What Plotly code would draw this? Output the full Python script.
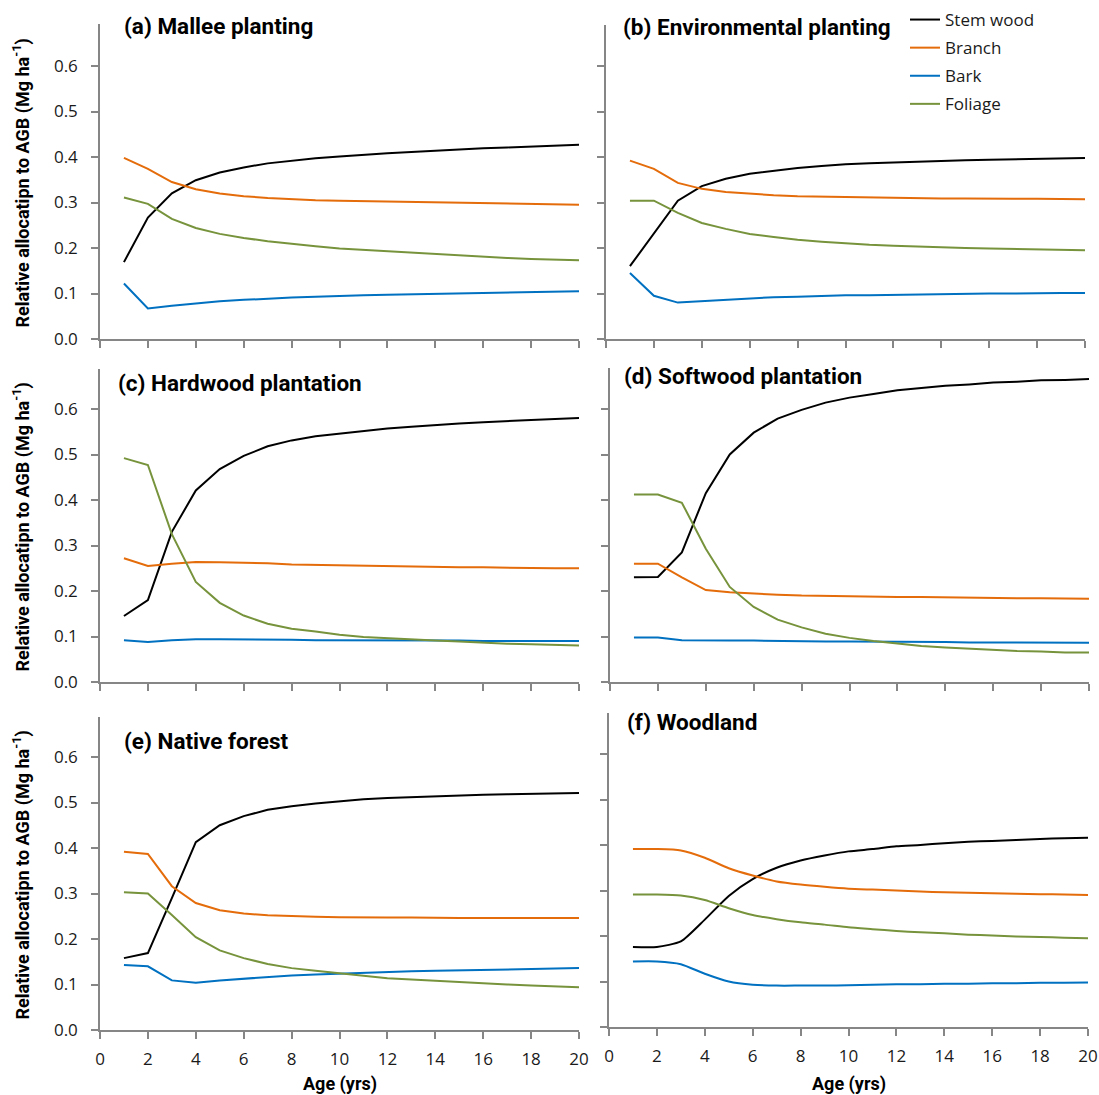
import plotly.graph_objects as go

# Age in years (x axis for every panel)
age = list(range(1, 21))

series_names = ["Stem wood", "Branch", "Bark", "Foliage"]
series_colors = ["#000000", "#E46C0A", "#0070C0", "#77933C"]

# (a) Mallee planting
mallee_stem = [0.169, 0.267, 0.320, 0.349, 0.366, 0.377, 0.386, 0.392, 0.397, 0.401,
               0.405, 0.408, 0.411, 0.414, 0.416, 0.419, 0.421, 0.423, 0.425, 0.427]
mallee_branch = [0.398, 0.374, 0.345, 0.329, 0.320, 0.314, 0.310, 0.307, 0.305, 0.304,
                 0.303, 0.302, 0.301, 0.300, 0.299, 0.298, 0.298, 0.297, 0.296, 0.295]
mallee_bark = [0.122, 0.067, 0.073, 0.078, 0.083, 0.086, 0.089, 0.091, 0.093, 0.095,
               0.096, 0.097, 0.098, 0.099, 0.100, 0.101, 0.102, 0.103, 0.104, 0.105]
mallee_foliage = [0.311, 0.297, 0.264, 0.244, 0.231, 0.222, 0.215, 0.209, 0.204, 0.199,
                  0.196, 0.192, 0.189, 0.186, 0.183, 0.180, 0.178, 0.176, 0.175, 0.173]

# (b) Environmental planting
env_stem = [0.160, 0.231, 0.304, 0.336, 0.352, 0.363, 0.370, 0.376, 0.380, 0.384,
            0.386, 0.388, 0.390, 0.392, 0.393, 0.394, 0.395, 0.396, 0.397, 0.398]
env_branch = [0.392, 0.374, 0.343, 0.330, 0.323, 0.319, 0.316, 0.314, 0.313, 0.312,
              0.311, 0.310, 0.310, 0.309, 0.309, 0.308, 0.308, 0.308, 0.307, 0.307]
env_bark = [0.145, 0.095, 0.080, 0.083, 0.087, 0.089, 0.092, 0.093, 0.095, 0.096,
            0.096, 0.097, 0.098, 0.098, 0.099, 0.100, 0.100, 0.101, 0.101, 0.101]
env_foliage = [0.304, 0.304, 0.277, 0.255, 0.242, 0.231, 0.224, 0.218, 0.214, 0.210,
               0.207, 0.205, 0.203, 0.201, 0.200, 0.199, 0.198, 0.197, 0.196, 0.195]

# (c) Hardwood plantation
hard_stem = [0.145, 0.180, 0.330, 0.421, 0.468, 0.497, 0.518, 0.531, 0.540, 0.546,
             0.552, 0.557, 0.561, 0.565, 0.568, 0.571, 0.574, 0.576, 0.578, 0.580]
hard_branch = [0.272, 0.255, 0.260, 0.264, 0.263, 0.262, 0.261, 0.258, 0.257, 0.256,
               0.255, 0.254, 0.253, 0.253, 0.252, 0.252, 0.251, 0.250, 0.250, 0.250]
hard_bark = [0.092, 0.088, 0.092, 0.094, 0.094, 0.094, 0.093, 0.093, 0.092, 0.092,
             0.091, 0.091, 0.091, 0.091, 0.091, 0.090, 0.090, 0.090, 0.090, 0.090]
hard_foliage = [0.492, 0.477, 0.325, 0.220, 0.174, 0.146, 0.128, 0.117, 0.111, 0.104,
                0.099, 0.096, 0.093, 0.091, 0.089, 0.086, 0.084, 0.083, 0.081, 0.080]

# (d) Softwood plantation
soft_stem = [0.230, 0.231, 0.285, 0.415, 0.500, 0.548, 0.579, 0.598, 0.614, 0.625,
             0.633, 0.641, 0.646, 0.651, 0.654, 0.658, 0.660, 0.663, 0.664, 0.666]
soft_branch = [0.260, 0.260, 0.230, 0.202, 0.197, 0.194, 0.192, 0.190, 0.189, 0.189,
               0.188, 0.187, 0.187, 0.186, 0.185, 0.185, 0.184, 0.184, 0.183, 0.183]
soft_bark = [0.098, 0.098, 0.092, 0.091, 0.091, 0.091, 0.090, 0.090, 0.089, 0.089,
             0.089, 0.088, 0.088, 0.088, 0.087, 0.087, 0.087, 0.086, 0.086, 0.086]
soft_foliage = [0.412, 0.412, 0.394, 0.293, 0.209, 0.165, 0.137, 0.120, 0.106, 0.097,
                0.090, 0.084, 0.079, 0.076, 0.073, 0.070, 0.068, 0.067, 0.065, 0.065]

# (e) Native forest
native_stem = [0.158, 0.169, 0.290, 0.413, 0.450, 0.470, 0.484, 0.492, 0.498, 0.503,
               0.507, 0.510, 0.512, 0.514, 0.516, 0.517, 0.518, 0.519, 0.520, 0.521]
native_branch = [0.392, 0.387, 0.316, 0.279, 0.263, 0.256, 0.252, 0.250, 0.249, 0.248,
                 0.247, 0.247, 0.247, 0.246, 0.246, 0.246, 0.246, 0.246, 0.246, 0.246]
native_bark = [0.143, 0.140, 0.109, 0.104, 0.109, 0.113, 0.117, 0.120, 0.122, 0.124,
               0.126, 0.128, 0.129, 0.130, 0.131, 0.132, 0.133, 0.134, 0.135, 0.136]
native_foliage = [0.303, 0.300, 0.253, 0.204, 0.175, 0.158, 0.145, 0.136, 0.130, 0.124,
                  0.119, 0.114, 0.111, 0.108, 0.105, 0.102, 0.100, 0.098, 0.096, 0.094]

# (f) Woodland
wood_stem = [0.176, 0.176, 0.188, 0.236, 0.288, 0.325, 0.350, 0.366, 0.377, 0.386,
             0.391, 0.397, 0.400, 0.404, 0.407, 0.409, 0.411, 0.413, 0.415, 0.416]
wood_branch = [0.391, 0.391, 0.388, 0.372, 0.349, 0.333, 0.320, 0.313, 0.308, 0.304,
               0.302, 0.300, 0.298, 0.296, 0.295, 0.294, 0.293, 0.292, 0.291, 0.290]
wood_bark = [0.144, 0.144, 0.138, 0.117, 0.100, 0.093, 0.091, 0.091, 0.091, 0.092,
             0.093, 0.094, 0.094, 0.095, 0.095, 0.096, 0.096, 0.097, 0.097, 0.098]
wood_foliage = [0.291, 0.291, 0.289, 0.279, 0.261, 0.246, 0.237, 0.230, 0.225, 0.219,
                0.215, 0.211, 0.208, 0.206, 0.203, 0.201, 0.199, 0.198, 0.196, 0.195]

panel_titles = ["(a) Mallee planting", "(b) Environmental planting",
                "(c) Hardwood plantation", "(d) Softwood plantation",
                "(e) Native forest", "(f) Woodland"]

panel_data = [
    [mallee_stem, mallee_branch, mallee_bark, mallee_foliage],
    [env_stem, env_branch, env_bark, env_foliage],
    [hard_stem, hard_branch, hard_bark, hard_foliage],
    [soft_stem, soft_branch, soft_bark, soft_foliage],
    [native_stem, native_branch, native_bark, native_foliage],
    [wood_stem, wood_branch, wood_bark, wood_foliage],
]

x_ticks = list(range(0, 21, 2))
y_ticks = [0.0, 0.1, 0.2, 0.3, 0.4, 0.5, 0.6]
y_tick_text = ["0.0", "0.1", "0.2", "0.3", "0.4", "0.5", "0.6"]
y_title = "Relative allocatipn to AGB (Mg ha<sup>-1</sup>)"
x_title = "Age (yrs)"

W, H = 1099, 1095

# plot-area boxes in pixels: (left, right, top, bottom)
boxes = [
    (100, 579, 24, 339),
    (606, 1085, 25, 339),
    (100, 579, 369, 682),
    (610, 1089, 368, 682),
    (100, 579, 717, 1030),
    (609, 1088, 713, 1027),
]
px_per_unit = 455.0

# title anchor points (left x, centre y) in pixels
title_pos = [(122, 26), (621, 27), (116, 383), (622, 376), (122, 741), (625, 722)]

AXIS_GREY = "#868686"
TEXT_COL = "#1a1a1a"
TICK_FONT = dict(family="Open Sans", size=17, color=TEXT_COL)
BOLD_FONT = "Roboto"

fig = go.Figure()
annotations = []

for p, (series_set, box) in enumerate(zip(panel_data, boxes)):
    idx = "" if p == 0 else str(p + 1)
    xa, ya = "x" + idx, "y" + idx
    for s, (name, color, values) in enumerate(zip(series_names, series_colors, series_set)):
        fig.add_trace(go.Scatter(
            x=age, y=values, mode="lines", name=name,
            line=dict(color=color, width=2,
                      shape="spline" if p == 5 else "linear", smoothing=0.6),
            xaxis=xa, yaxis=ya,
            legendgroup=name, showlegend=(p == 0),
        ))

    left, right, top, bottom = box
    ymax = (bottom - top) / px_per_unit
    is_left = p % 2 == 0
    is_bottom = p >= 4
    xkey = "xaxis" + idx
    ykey = "yaxis" + idx
    fig.update_layout({
        xkey: dict(
            domain=[left / W, right / W], range=[0, 20], anchor=ya,
            tickmode="array", tickvals=x_ticks,
            showticklabels=is_bottom, tickfont=TICK_FONT,
            ticks="outside", ticklen=7, tickwidth=1.5, tickcolor=AXIS_GREY,
            ticklabelstandoff=6, automargin=False,
            showline=True, linecolor=AXIS_GREY, linewidth=1.5,
            showgrid=False, zeroline=False, fixedrange=True,
        ),
        ykey: dict(
            domain=[1 - bottom / H, 1 - top / H], range=[0, ymax], anchor=xa,
            tickmode="array", tickvals=y_ticks, ticktext=y_tick_text,
            showticklabels=is_left, tickfont=TICK_FONT,
            ticks="outside", ticklen=7, tickwidth=1.5, tickcolor=AXIS_GREY,
            ticklabelstandoff=10, automargin=False,
            showline=True, linecolor=AXIS_GREY, linewidth=1.5,
            showgrid=False, zeroline=False, fixedrange=True,
        ),
    })

    tx, ty = title_pos[p]
    annotations.append(dict(
        text="<b>" + panel_titles[p] + "</b>", xref="paper", yref="paper",
        x=tx / W, y=1 - ty / H, xanchor="left", yanchor="middle",
        showarrow=False, font=dict(family=BOLD_FONT, size=22.5, color="#000000"),
    ))

    if is_left:
        annotations.append(dict(
            text="<b>" + y_title + "</b>", xref="paper", yref="paper",
            x=22 / W, y=1 - ((top + bottom) / 2 + 2) / H,
            xanchor="center", yanchor="middle", textangle=-90,
            showarrow=False, font=dict(family=BOLD_FONT, size=18, color="#000000"),
        ))
    if is_bottom:
        annotations.append(dict(
            text="<b>" + x_title + "</b>", xref="paper", yref="paper",
            x=((left + right) / 2) / W, y=1 - 1084 / H,
            xanchor="center", yanchor="middle",
            showarrow=False, font=dict(family=BOLD_FONT, size=18, color="#000000"),
        ))

fig.update_layout(
    width=W, height=H,
    margin=dict(l=0, r=0, t=0, b=0),
    paper_bgcolor="white", plot_bgcolor="white",
    annotations=annotations,
    showlegend=True,
    legend=dict(
        x=905 / W, y=1 - 2 / H, xanchor="left", yanchor="top",
        bgcolor="rgba(0,0,0,0)", borderwidth=0,
        font=dict(family="Open Sans", size=17, color=TEXT_COL),
        tracegroupgap=3, traceorder="grouped", itemwidth=30,
    ),
)

fig.write_html("out.html")
